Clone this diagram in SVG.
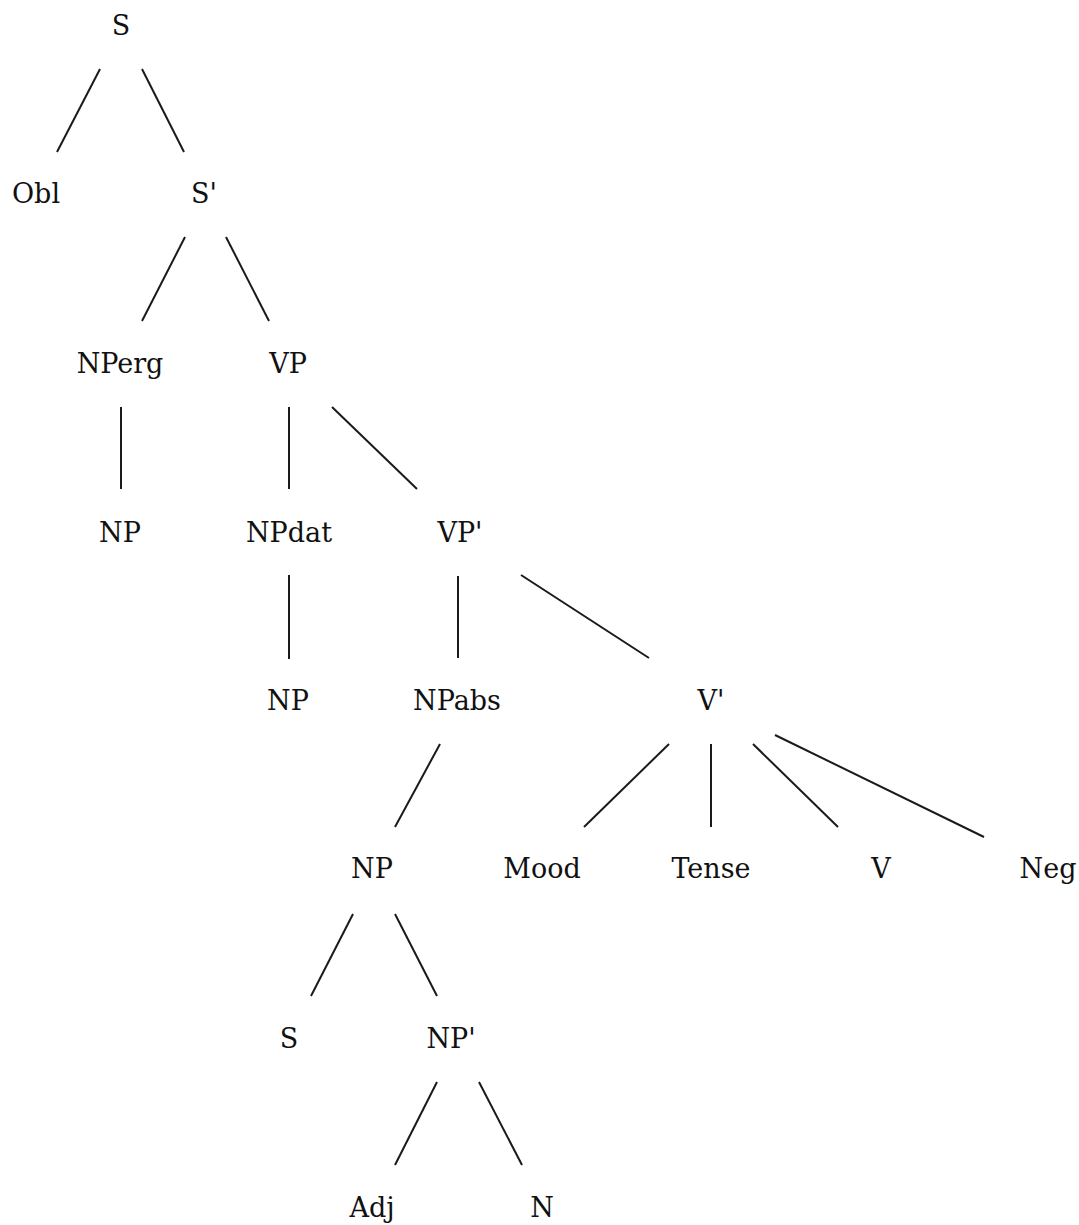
<svg xmlns="http://www.w3.org/2000/svg" width="1079" height="1225" viewBox="0 0 1079 1225">
<style>
text{font-family:"DejaVu Serif",serif;font-size:27px;fill:#111;text-anchor:middle}
.e line{stroke:#1a1a1a;stroke-width:2;stroke-linecap:butt}
</style>
<rect width="1079" height="1225" fill="#fff"/>
<g id="connectors" class="e">
<line x1="100" y1="69" x2="57" y2="152"/>
<line x1="142" y1="69" x2="184" y2="152"/>
<line x1="185" y1="237" x2="142" y2="321"/>
<line x1="226" y1="237" x2="269" y2="321"/>
<line x1="121" y1="407" x2="121" y2="489"/>
<line x1="289" y1="407" x2="289" y2="489"/>
<line x1="332" y1="407" x2="417" y2="489"/>
<line x1="289" y1="575" x2="289" y2="659"/>
<line x1="458" y1="576" x2="458" y2="658"/>
<line x1="521" y1="575" x2="649" y2="658"/>
<line x1="440" y1="744" x2="395" y2="827"/>
<line x1="669" y1="744" x2="584" y2="827"/>
<line x1="711" y1="744" x2="711" y2="827"/>
<line x1="753" y1="744" x2="838" y2="827"/>
<line x1="775" y1="735" x2="984" y2="837"/>
<line x1="353" y1="914" x2="311" y2="996"/>
<line x1="395" y1="914" x2="437" y2="996"/>
<line x1="437" y1="1082" x2="395" y2="1165"/>
<line x1="479" y1="1082" x2="522" y2="1165"/>
</g>
<g id="n-S"><text x="121" y="35">S</text></g>
<g id="n-Obl"><text x="36" y="203">Obl</text></g>
<g id="n-Sbar"><text x="204" y="203">S'</text></g>
<g id="n-NPerg"><text x="120" y="373">NPerg</text></g>
<g id="n-VP"><text x="288" y="373">VP</text></g>
<g id="n-NP1"><text x="120" y="542">NP</text></g>
<g id="n-NPdat"><text x="289" y="542">NPdat</text></g>
<g id="n-VPbar"><text x="460" y="542">VP'</text></g>
<g id="n-NP2"><text x="288" y="710">NP</text></g>
<g id="n-NPabs"><text x="457" y="710">NPabs</text></g>
<g id="n-Vbar"><text x="711" y="710">V'</text></g>
<g id="n-NP3"><text x="372" y="878">NP</text></g>
<g id="n-Mood"><text x="542" y="878">Mood</text></g>
<g id="n-Tense"><text x="711" y="878">Tense</text></g>
<g id="n-V"><text x="881" y="878">V</text></g>
<g id="n-Neg"><text x="1048" y="878">Neg</text></g>
<g id="n-S2"><text x="289" y="1048">S</text></g>
<g id="n-NPbar"><text x="451" y="1048">NP'</text></g>
<g id="n-Adj"><text x="372" y="1217">Adj</text></g>
<g id="n-N"><text x="542" y="1217">N</text></g>
</svg>
